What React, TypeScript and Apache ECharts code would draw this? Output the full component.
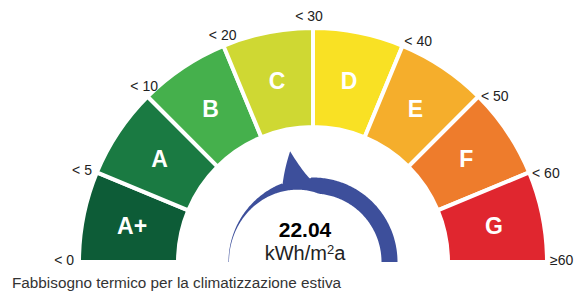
import React, { useEffect, useRef } from 'react';
import * as echarts from 'echarts';

// ---- data ----
const classes = ['A+', 'A', 'B', 'C', 'D', 'E', 'F', 'G'];
const classColors = ['#0d5c37', '#1a7a42', '#45b04c', '#cfd833', '#f9e124', '#f5ae2c', '#ee7c2c', '#e0262f'];
const thresholds = [5, 10, 20, 30, 40, 50, 60];
const boundaryLabels = ['< 0', '< 5', '< 10', '< 20', '< 30', '< 40', '< 50', '< 60', '≥60'];
const measuredValue = 22.04;
const unitMain = 'kWh/m';
const unitSup = '2';
const unitTail = 'a';
const footerText = 'Fabbisogno termico per la climatizzazione estiva';

const FONT = '"Liberation Sans", Arial, sans-serif';
const BLUE = '#3d4f9b';

export default function App() {
  const ref = useRef<HTMLDivElement>(null);

  useEffect(() => {
    if (!ref.current) return;
    const chart = echarts.init(ref.current, null, { renderer: 'svg' });

    const classIndex = thresholds.filter((t) => measuredValue >= t).length;
    const pointerPos = classIndex + 0.5;
    const span = classes.length;

    const boundaryRender = (params: any, api: any) => {
      const r = api.value(0);
      const v = api.value(1);
      const p = api.coord([r, v]);
      const cs = params.coordSys;
      const ang = (Math.atan2(cs.cy - p[1], p[0] - cs.cx) * 180) / Math.PI;
      let align = 'center';
      let va = 'bottom';
      let ox = 0;
      let oy = -2;
      if (ang > 150) {
        align = 'right';
        va = 'middle';
        ox = -3;
        oy = -2;
      } else if (ang > 125) {
        ox = -2;
        oy = -2;
      } else if (ang > 80 && ang < 100) {
        ox = -4;
        oy = -3;
      } else if (ang < 80) {
        align = 'left';
        va = 'middle';
        ox = 1;
        oy = ang > 60 ? -3 : ang < 10 ? -2 : 1;
      }
      return {
        type: 'text',
        x: p[0] + ox,
        y: p[1] + oy,
        z2: 10,
        style: {
          text: boundaryLabels[params.dataIndex],
          align,
          verticalAlign: va,
          fill: '#222',
          font: '14px ' + FONT,
        },
      };
    };

    const pointerRender = (params: any, api: any) => {
      const rOut = api.value(0);
      const v0 = api.value(1);
      const cs = params.coordSys;
      const P = (r: number, v: number) => api.coord([r, v]);
      const thick = (v: number) => {
        const t = Math.min(1, v / 4.22);
        return 0.5 + 15.5 * Math.pow(t, 2.2);
      };
      const vL = v0 - 0.45;
      const vR = v0 + 0.41;
      const pts: number[][] = [];
      const step = 0.04;
      for (let v = 0; v < vL; v += step) pts.push(P(rOut, v));
      pts.push(P(rOut - 1, vL));
      const quad = (a: number[], c: number[], b: number[]) => {
        const out: number[][] = [];
        for (let i = 1; i <= 12; i++) {
          const t = i / 12;
          const u = 1 - t;
          out.push([
            u * u * a[0] + 2 * u * t * c[0] + t * t * b[0],
            u * u * a[1] + 2 * u * t * c[1] + t * t * b[1],
          ]);
        }
        return out;
      };
      const baseL = P(rOut - 1, vL);
      const apex = P(113, v0 - 0.02);
      const baseR = P(rOut - 1, vR);
      pts.push(...quad(baseL, P(98, v0 - 0.25), apex));
      pts.push(...quad(apex, P(88.5, v0 + 0.25), baseR));
      for (let v = vR + step; v < span; v += step) pts.push(P(rOut, v));
      pts.push(P(rOut, span));
      for (let v = span; v >= 0; v -= step) pts.push(P(rOut - thick(v), v));
      pts.push(P(rOut - thick(0), 0));

      return {
        type: 'group',
        children: [
          {
            type: 'polygon',
            shape: { points: pts },
            style: { fill: BLUE, stroke: null },
          },
          {
            type: 'text',
            x: cs.cx - 8,
            y: cs.cy - 33,
            style: {
              text: measuredValue.toFixed(2),
              align: 'center',
              verticalAlign: 'middle',
              fill: '#000',
              font: 'bold 21px ' + FONT,
            },
          },
          {
            type: 'text',
            x: cs.cx - 8,
            y: cs.cy + 1,
            style: {
              text: '{m|' + unitMain + '}{s|' + unitSup + '}{m|' + unitTail + '}',
              align: 'center',
              verticalAlign: 'bottom',
              rich: {
                m: { fontSize: 20, fontFamily: FONT, fill: '#222', color: '#222', verticalAlign: 'bottom' },
                s: { fontSize: 13, fontFamily: FONT, fill: '#222', color: '#222', verticalAlign: 'top' },
              },
            },
          },
        ],
      };
    };

    const option: any = {
      animation: false,
      title: {
        text: footerText,
        left: 12,
        top: 275,
        padding: 0,
        textStyle: { fontSize: 15.3, fontWeight: 'normal', color: '#333', fontFamily: FONT },
      },
      polar: [
        { center: [313, 262], radius: [135, 234] },
        { center: [313, 262], radius: [0, 234] },
      ],
      angleAxis: [
        {
          polarIndex: 0,
          type: 'category',
          data: classes,
          startAngle: 180,
          endAngle: 0,
          boundaryGap: true,
          axisLine: { show: false },
          axisTick: { show: false },
          axisLabel: { show: false },
          splitLine: { show: false },
        },
        {
          polarIndex: 1,
          type: 'value',
          min: 0,
          max: span,
          startAngle: 180,
          endAngle: 0,
          show: false,
          axisLine: { show: false },
          axisTick: { show: false },
          axisLabel: { show: false },
          splitLine: { show: false },
        },
      ],
      radiusAxis: [
        { polarIndex: 0, type: 'value', min: 0, max: 1, show: false, splitLine: { show: false } },
        { polarIndex: 1, type: 'value', min: 0, max: 234, show: false, splitLine: { show: false } },
      ],
      series: [
        {
          type: 'bar',
          coordinateSystem: 'polar',
          polarIndex: 0,
          barCategoryGap: '0%',
          z: 2,
          data: classes.map((c, i) => ({ value: 1, name: c, itemStyle: { color: classColors[i] } })),
          itemStyle: { borderColor: '#fff', borderWidth: 4 },
          label: {
            show: true,
            position: 'middle',
            rotate: 0,
            formatter: (p: any) => classes[p.dataIndex],
            color: '#fff',
            fontSize: 23,
            fontWeight: 'bold',
            fontFamily: FONT,
          },
          silent: true,
        },
        {
          type: 'custom',
          coordinateSystem: 'polar',
          polarIndex: 1,
          z: 5,
          clip: false,
          data: boundaryLabels.map((_, i) => [236, i]),
          renderItem: boundaryRender,
          silent: true,
        },
        {
          type: 'custom',
          coordinateSystem: 'polar',
          polarIndex: 1,
          z: 5,
          clip: false,
          data: [[84.5, pointerPos]],
          renderItem: pointerRender,
          silent: true,
        },
      ],
    };

    chart.setOption(option);
    return () => chart.dispose();
  }, []);

  return (
    <div
      ref={ref}
      style={{ position: 'fixed', left: 0, top: 0, width: 576, height: 293, background: '#fff' }}
    />
  );
}
